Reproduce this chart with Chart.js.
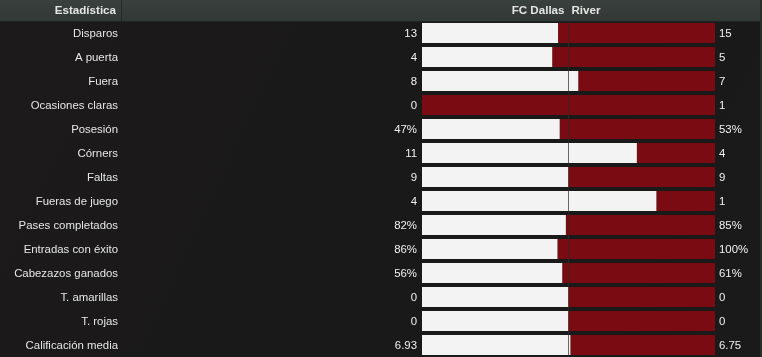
<!DOCTYPE html>
<html>
<head>
<meta charset="utf-8">
<script src="https://cdn.jsdelivr.net/npm/chart.js@4/dist/chart.umd.min.js"></script>
<style>
  html, body { margin: 0; padding: 0; background: #1b1a1a; }
  #wrap { width: 762px; height: 357px; position: relative; }
</style>
</head>
<body>
<div id="wrap"><canvas id="c"></canvas></div>
<script>
const categories = ["Disparos", "A puerta", "Fuera", "Ocasiones claras", "Posesión", "Córners", "Faltas", "Fueras de juego", "Pases completados", "Entradas con éxito", "Cabezazos ganados", "T. amarillas", "T. rojas", "Calificación media"];
const homeTeam = "FC Dallas";
const awayTeam = "River";
const homeValues = [13, 4, 8, 0, 47, 11, 9, 4, 82, 86, 56, 0, 0, 6.93];
const awayValues = [15, 5, 7, 1, 53, 4, 9, 1, 85, 100, 61, 0, 0, 6.75];
const valueSuffix = ["", "", "", "", "%", "", "", "", "%", "%", "%", "", "", ""];
const valueDecimals = [0, 0, 0, 0, 0, 0, 0, 0, 0, 0, 0, 0, 0, 2];
const headerLabel = "Estadística";

const homeShare = homeValues.map((h, i) => {
  const t = h + awayValues[i];
  return t === 0 ? 0.5 : h / t;
});
const awayShare = homeShare.map(s => 1 - s);

const FONT = '"Liberation Sans", Arial, Helvetica, sans-serif';
const fmt = (v, i) => v.toFixed(valueDecimals[i]) + valueSuffix[i];

const decor = {
  id: 'decor',
  beforeDraw(chart) {
    const ctx = chart.ctx;
    const W = chart.width, H = chart.height;
    ctx.save();
    const bg = ctx.createLinearGradient(0, 0, W, H);
    bg.addColorStop(0, '#1c1a1a');
    bg.addColorStop(0.5, '#1a1919');
    bg.addColorStop(1, '#1b1a1a');
    ctx.fillStyle = bg;
    ctx.fillRect(0, 0, W, H);
    const hg = ctx.createLinearGradient(0, 0, 0, 22);
    hg.addColorStop(0, '#3a403d');
    hg.addColorStop(1, '#323835');
    ctx.fillStyle = hg;
    ctx.fillRect(0, 0, W, 22);
    ctx.fillStyle = 'rgba(0,0,0,0.35)';
    ctx.fillRect(0, 21, W, 1);
    ctx.fillStyle = 'rgba(0,0,0,0.3)';
    ctx.fillRect(121, 0, 1, 21);
    ctx.fillStyle = '#26302a';
    ctx.fillRect(W - 2, 0, 2, H);
    const ds = chart.data.datasets;
    ctx.font = 'bold 11.6px ' + FONT;
    ctx.fillStyle = '#e4e6e4';
    ctx.textBaseline = 'middle';
    ctx.textAlign = 'right';
    ctx.fillText(headerLabel, 116, 11);
    const cx = chart.scales.x.getPixelForValue(0.5);
    ctx.fillText(ds[0].label, cx - 4, 11);
    ctx.textAlign = 'left';
    ctx.fillText(ds[1].label, cx + 3, 11);
    ctx.restore();
  },
  afterDatasetsDraw(chart) {
    const ctx = chart.ctx;
    const xs = chart.scales.x, ys = chart.scales.y;
    const area = chart.chartArea;
    ctx.save();
    const cx = Math.round(xs.getPixelForValue(0.5)) - 0.5;
    ctx.strokeStyle = 'rgba(50,40,40,0.7)';
    ctx.lineWidth = 1;
    ctx.beginPath();
    ctx.moveTo(cx, area.top + 1);
    ctx.lineTo(cx, area.bottom);
    ctx.stroke();
    ctx.font = '11.4px ' + FONT;
    ctx.textBaseline = 'middle';
    chart.data.labels.forEach((lab, i) => {
      const y = ys.getPixelForValue(i) + 0.5;
      ctx.fillStyle = '#e6e6e6';
      ctx.textAlign = 'right';
      ctx.fillText(lab, 118, y);
      ctx.fillStyle = '#f0f0f0';
      ctx.fillText(fmt(homeValues[i], i), area.left - 5, y);
      ctx.textAlign = 'left';
      ctx.fillText(fmt(awayValues[i], i), area.right + 4, y);
    });
    ctx.restore();
  }
};

new Chart(document.getElementById('c'), {
  type: 'bar',
  data: {
    labels: categories,
    datasets: [
      { label: homeTeam, data: homeShare, backgroundColor: '#f3f3f3', borderWidth: 0 },
      { label: awayTeam, data: awayShare, backgroundColor: '#7b0b13', borderWidth: 0 }
    ]
  },
  options: {
    indexAxis: 'y',
    responsive: true,
    maintainAspectRatio: false,
    animation: false,
    events: [],
    layout: { padding: { left: 422, right: 47, top: 21, bottom: 0 } },
    datasets: { bar: { categoryPercentage: 1, barPercentage: 0.834 } },
    scales: {
      x: { stacked: true, min: 0, max: 1, display: false },
      y: { stacked: true, display: false }
    },
    plugins: {
      legend: { display: false },
      tooltip: { enabled: false },
      title: { display: false }
    }
  },
  plugins: [decor]
});
</script>
</body>
</html>
